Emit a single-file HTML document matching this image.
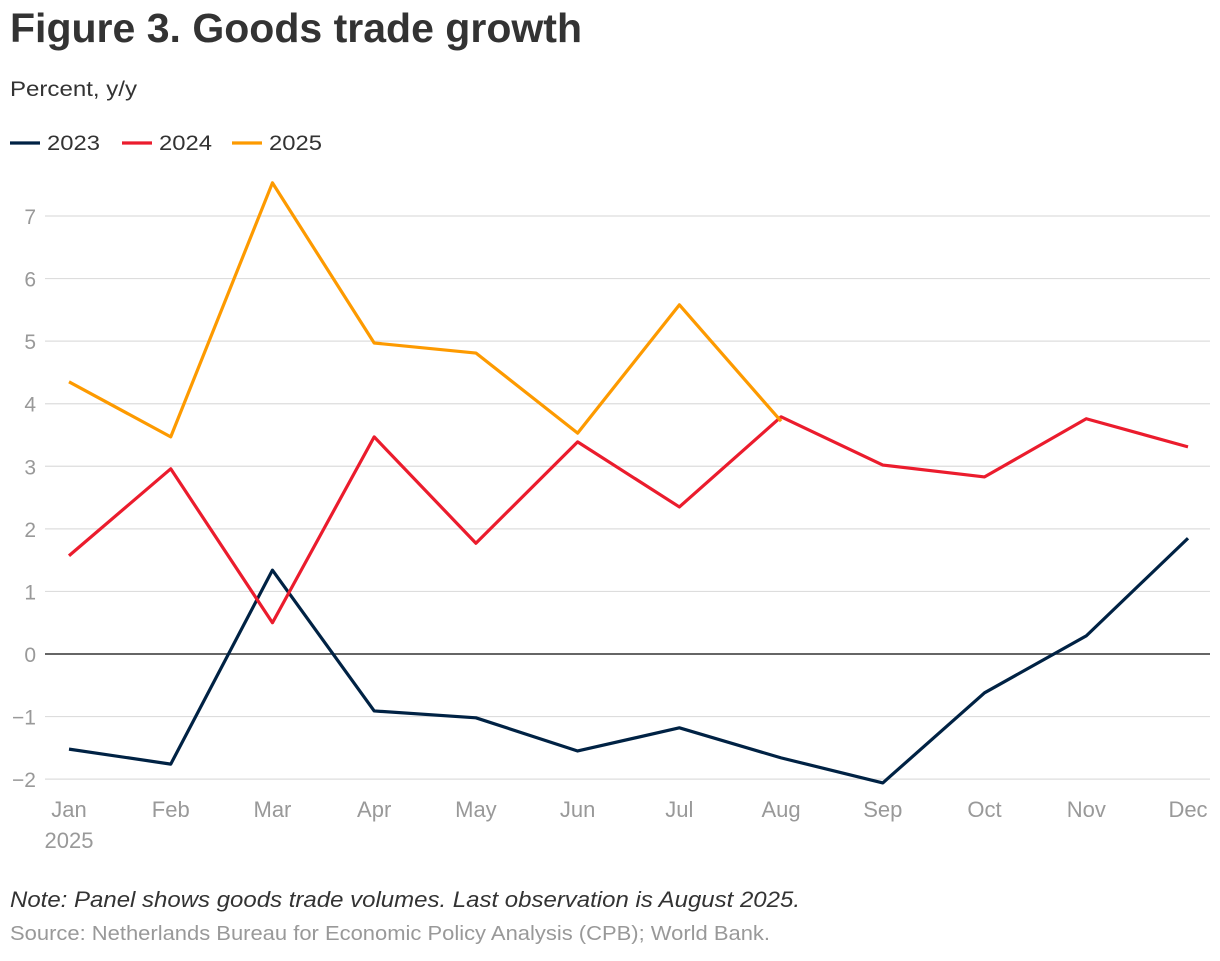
<!DOCTYPE html>
<html><head><meta charset="utf-8"><style>
body{margin:0;background:#fff;width:1220px;height:956px;overflow:hidden;font-family:"Liberation Sans",sans-serif}
</style></head><body>
<svg width="1220" height="956" font-family="Liberation Sans, sans-serif">
<text x="10" y="42" font-size="41" font-weight="bold" fill="#333" textLength="572" lengthAdjust="spacingAndGlyphs">Figure 3. Goods trade growth</text>
<text x="10" y="96" font-size="21" fill="#333" textLength="127" lengthAdjust="spacingAndGlyphs">Percent, y/y</text>
<g id="legend"></g>
<g id="grid"></g><g id="lines"></g><g id="xlab"></g>
<text x="10" y="907" font-size="22" font-style="italic" fill="#333" textLength="790" lengthAdjust="spacingAndGlyphs">Note: Panel shows goods trade volumes. Last observation is August 2025.</text>
<text x="10" y="940" font-size="20" fill="#999" textLength="760" lengthAdjust="spacingAndGlyphs">Source: Netherlands Bureau for Economic Policy Analysis (CPB); World Bank.</text>
</svg>
<script>
const months=["Jan","Feb","Mar","Apr","May","Jun","Jul","Aug","Sep","Oct","Nov","Dec"];
const yTicks=[-2,-1,0,1,2,3,4,5,6,7];
const seriesNames=["2023","2024","2025"];
const seriesColors=["#002244","#eb1c2d","#fd9a00"];
const v2023=[-1.52,-1.76,1.34,-0.91,-1.02,-1.55,-1.18,-1.66,-2.06,-0.62,0.29,1.85];
const v2024=[1.57,2.96,0.5,3.47,1.77,3.39,2.35,3.79,3.02,2.83,3.76,3.31];
const v2025=[4.35,3.47,7.53,4.97,4.81,3.53,5.58,3.72];
const NS="http://www.w3.org/2000/svg";
const xS=i=>69+i*(1188-69)/11;
const yS=v=>654-v*(654-216)/7;
function mk(t,a,p){const e=document.createElementNS(NS,t);for(const k in a)e.setAttribute(k,a[k]);p.appendChild(e);return e;}
const grid=document.getElementById('grid');
yTicks.forEach(t=>{
 const l=mk('line',{x1:45,x2:1210,y1:yS(t),y2:yS(t),stroke:t===0?'#333':'#ddd','stroke-width':t===0?1.5:1.2},grid);
 
 
 const tx=mk('text',{x:36,y:yS(t)+8,'text-anchor':'end','font-size':21,fill:'#999'},grid);
 tx.textContent=t<0?'\u2212'+Math.abs(t):String(t);
 
 
});
const xl=document.getElementById('xlab');
months.forEach((m,i)=>{
 const tx=mk('text',{x:xS(i),y:817,'text-anchor':'middle','font-size':22,fill:'#999'},xl);
 tx.textContent=m;
 
 
});
const yr=mk('text',{x:xS(0),y:848,'text-anchor':'middle','font-size':22,fill:'#999'},xl);
yr.textContent='2025';


const lines=document.getElementById('lines');
[v2023,v2024,v2025].forEach((s,k)=>{
 const p=mk('polyline',{points:s.map((v,i)=>xS(i)+','+yS(v)).join(' '),fill:'none',stroke:seriesColors[k],'stroke-width':3.2,'stroke-linejoin':'round'},lines);
 
 
});
const lg=document.getElementById('legend');
const lx=[10,122,232];
seriesNames.forEach((n,k)=>{
 const l=mk('line',{x1:lx[k],x2:lx[k]+30,y1:143,y2:143,stroke:seriesColors[k],'stroke-width':3.2},lg);
 
 
 const t=mk('text',{x:lx[k]+37,y:150,'font-size':21,fill:'#333',textLength:53,lengthAdjust:'spacingAndGlyphs'},lg);
 t.textContent=n;
 
 
});
</script>
</body></html>
